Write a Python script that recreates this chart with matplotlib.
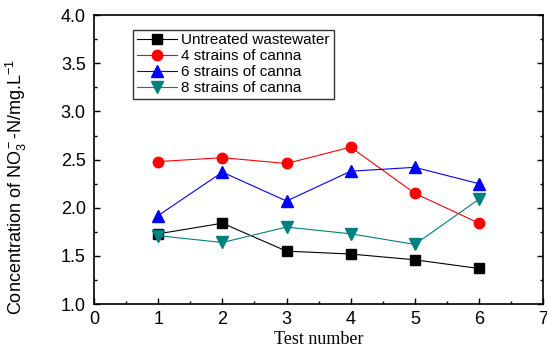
import matplotlib
matplotlib.use("Agg")
import matplotlib.pyplot as plt
from matplotlib.ticker import MultipleLocator

plt.rcParams['font.family'] = 'Liberation Sans'
plt.rcParams['mathtext.fontset'] = 'custom'
plt.rcParams['mathtext.rm'] = 'Liberation Sans'
plt.rcParams['mathtext.it'] = 'Liberation Sans'

tests = [1, 2, 3, 4, 5, 6]
untreated = [1.73, 1.84, 1.55, 1.52, 1.46, 1.37]
canna_4 = [2.48, 2.52, 2.46, 2.63, 2.15, 1.84]
canna_6 = [1.92, 2.37, 2.07, 2.38, 2.42, 2.25]
canna_8 = [1.71, 1.64, 1.80, 1.73, 1.62, 2.09]

fig = plt.figure(figsize=(5.47, 3.52), dpi=100)
ax = fig.add_axes([0.172, 0.136, 0.821, 0.821])

ax.plot(tests, untreated, color='black', lw=0.8, marker='s', ms=7, label='Untreated wastewater')
ax.plot(tests, canna_4, color='red', lw=0.8, marker='o', ms=7.5, label='4 strains of canna')
ax.plot(tests, canna_6, color='blue', lw=0.8, marker='^', ms=8, label='6 strains of canna')
ax.plot(tests, canna_8, color='#008080', lw=0.8, marker='v', ms=8, label='8 strains of canna')

ax.set_xlim(0, 7)
ax.set_ylim(1.0, 4.0)
ax.xaxis.set_major_locator(MultipleLocator(1))
ax.xaxis.set_minor_locator(MultipleLocator(0.5))
ax.yaxis.set_major_locator(MultipleLocator(0.5))
ax.yaxis.set_minor_locator(MultipleLocator(0.25))
ax.tick_params(which='both', direction='in', right=True, top=False, labelsize=13, width=1)
ax.tick_params(which='major', length=4)
ax.tick_params(which='minor', length=2)
ax.tick_params(axis='x', which='major', pad=5)
ax.tick_params(axis='y', which='major', pad=6)
ax.yaxis.set_major_formatter(matplotlib.ticker.FormatStrFormatter('%.1f'))
for s in ax.spines.values():
    s.set_linewidth(1.2)

ax.set_xlabel('Test number', family='Liberation Serif', fontsize=13, labelpad=2)
ax.set_ylabel(r'Concentration of NO$_3^-$-N/mg.L$^{-1}$', fontsize=13)
ax.yaxis.set_label_coords(-0.145, 0.405)

leg = ax.legend(loc='upper left', bbox_to_anchor=(0.087, 0.95), fontsize=11, frameon=True,
                fancybox=False, handlelength=2.6, handletextpad=0.3, labelspacing=0.12,
                borderpad=0.25, borderaxespad=0)
leg.get_frame().set_edgecolor('black')
leg.get_frame().set_linewidth(1)

fig.savefig('out.png', dpi=100)
